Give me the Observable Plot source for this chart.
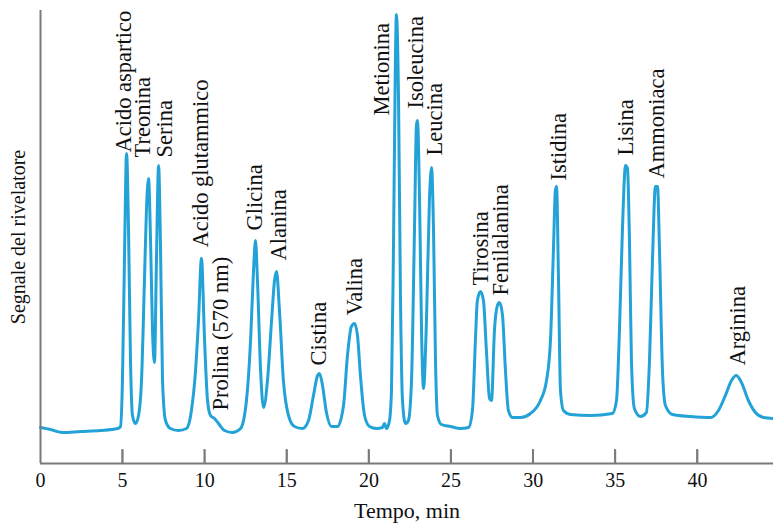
<!DOCTYPE html>
<html>
<head>
<meta charset="utf-8">
<script src="https://cdn.jsdelivr.net/npm/d3@7"></script>
<script src="https://cdn.jsdelivr.net/npm/@observablehq/plot@0.6"></script>
<style>
  html, body { margin: 0; padding: 0; background: #fff; }
  #chart svg { display: block; }
</style>
</head>
<body>
<div id="chart"></div>
<script>
// Chromatogram trace: retention time (min) and detector signal (arbitrary units)
const time = [0, 0.61, 1.34, 2.44, 3.65, 4.69, 4.87, 4.99, 5.12, 5.24, 5.36, 5.48, 5.60, 5.78, 5.97,
  6.15, 6.33, 6.45, 6.58, 6.70, 6.82, 6.94, 7.06, 7.19, 7.31, 7.43, 7.61, 7.91, 8.40, 8.89,
  9.19, 9.44, 9.62, 9.80, 9.99, 10.17, 10.35, 10.59, 10.84, 11.20, 11.69, 12.18, 12.54, 12.79,
  12.97, 13.09, 13.21, 13.40, 13.58, 13.82, 14.07, 14.25, 14.37, 14.55, 14.79, 15.10, 15.46,
  15.95, 16.32, 16.62, 16.87, 16.99, 17.17, 17.41, 17.72, 18.08, 18.45, 18.69, 18.93, 19.12,
  19.30, 19.48, 19.73, 20.03, 20.46, 20.82, 20.94, 21.07, 21.25, 21.37, 21.49, 21.61, 21.67,
  21.80, 21.92, 22.04, 22.22, 22.40, 22.59, 22.77, 22.89, 22.95, 23.08, 23.20, 23.32, 23.50,
  23.68, 23.81, 23.93, 24.05, 24.17, 24.41, 24.96, 25.57, 26.06, 26.30, 26.48, 26.60, 26.79,
  26.97, 27.15, 27.34, 27.46, 27.64, 27.82, 27.95, 28.13, 28.31, 28.49, 28.74, 29.23, 29.83,
  30.44, 30.81, 31.05, 31.23, 31.35, 31.42, 31.54, 31.66, 31.84, 32.27, 33.49, 34.82, 35.07,
  35.25, 35.43, 35.62, 35.74, 35.86, 35.98, 36.16, 36.53, 36.89, 37.08, 37.26, 37.44, 37.57,
  37.69, 37.87, 38.05, 38.48, 39.57, 40.79, 41.28, 41.70, 42.07, 42.37, 42.68, 43.10, 43.53,
  44.02, 44.63];
const signal = [36, 34, 31, 32, 33, 35, 37, 83, 213, 310, 233, 103, 48, 40, 48,
  83, 183, 253, 285, 223, 133, 101, 203, 298, 213, 83, 43, 35, 33, 35,
  53, 93, 143, 205, 123, 63, 48, 45, 40, 33, 31, 35, 63, 123,
  193, 223, 183, 93, 56, 83, 143, 183, 192, 153, 83, 48, 37,
  35, 43, 68, 88, 90, 78, 51, 37, 37, 58, 108, 137, 140,
  128, 88, 48, 37, 35, 36, 40, 35, 43, 73, 213, 403, 449,
  363, 163, 63, 40, 43, 83, 233, 338, 343, 263, 133, 75, 143,
  263, 296, 233, 103, 48, 39, 37, 35, 36, 53, 123, 163, 172,
  163, 113, 65, 63, 133, 158, 161, 148, 93, 53, 46, 46, 50,
  63, 83, 123, 213, 273, 277, 183, 73, 53, 49, 48, 50, 63,
  133, 233, 298, 295, 223, 103, 55, 47, 51, 103, 203, 277, 277,
  213, 93, 58, 49, 47, 46, 53, 68, 83, 88, 81, 63, 51,
  46, 45];

// Peak labels (amino acids) and where each label sits (time, signal at label base)
const peakNames = ["Acido aspartico", "Treonina", "Serina", "Acido glutammico", "Prolina (570 nm)",
  "Glicina", "Alanina", "Cistina", "Valina", "Metionina", "Isoleucina", "Leucina",
  "Tirosina", "Fenilalanina", "Istidina", "Lisina", "Ammoniaca", "Arginina"];
const labelTime = [5.1, 6.2, 7.55, 9.74, 10.96, 13.07, 14.5, 16.93, 19.12, 20.8, 22.85, 24.0,
  26.79, 28.0, 31.54, 35.62, 37.5, 42.44];
const labelSignal = [311, 306, 306, 216, 53, 233, 203, 98, 148, 348, 355, 308,
  178, 168, 283, 308, 285, 98];

const xTicks = [0, 5, 10, 15, 20, 25, 30, 35, 40];

const trace = time.map((t, i) => ({t, s: signal[i]}));
const labels = peakNames.map((name, i) => ({name, t: labelTime[i], s: labelSignal[i]}));
const innerTicks = xTicks.filter(d => d > 0);

const W = 773, H = 524;
const mTop = 10, mBottom = 61, mLeft = 40, mRight = 0;
const innerH = H - mTop - mBottom;
const yMax = 453;
const tickLenPx = 14;
const tickLen = tickLenPx * yMax / innerH; // inward tick length expressed in signal units
const font = "'Liberation Serif', 'Times New Roman', serif";
const axisColor = "#7a7a7a";
const lineColor = "#22a2d6";

// inward tick drawn as a symbol: a short vertical stroke going up from the axis
const tickSymbol = {draw(context) { context.moveTo(0, 0); context.lineTo(0, -tickLenPx); }};

const chart = Plot.plot({
  width: W,
  height: H,
  marginTop: mTop,
  marginBottom: mBottom,
  marginLeft: mLeft,
  marginRight: mRight,
  style: {fontFamily: font, fontSize: "20px", color: "#111", background: "#fff"},
  x: {domain: [0, 44.63]},
  y: {domain: [0, yMax]},
  marks: [
    Plot.axisX(xTicks, {tickSize: 0, tickPadding: 9, fontSize: 20, label: null}),
    Plot.axisX({ticks: [], tickSize: 0, label: "Tempo, min", labelAnchor: "center",
      labelOffset: 54, labelArrow: "none", fontSize: 22}),
    Plot.axisY({ticks: [], label: "Segnale del rivelatore", labelAnchor: "center",
      labelOffset: 30, labelArrow: "none", fontSize: 20}),
    Plot.line(trace, {x: "t", y: "s", stroke: lineColor, strokeWidth: 3, curve: "monotone-x"}),
    Plot.text(labels, {x: "t", y: "s", text: "name", rotate: -90, textAnchor: "start",
      lineAnchor: "middle", fontSize: 22.5, fill: "#111"}),
    Plot.ruleY([0], {stroke: axisColor, strokeWidth: 2}),
    Plot.ruleX([0], {stroke: axisColor, strokeWidth: 2}),
    Plot.rect(innerTicks, {x1: d => d, x2: d => d, y1: () => 0, y2: () => tickLen,
      insetLeft: -0.75, insetRight: -0.75, fill: axisColor}),
    Plot.dot(innerTicks, {x: d => d, y: () => 0, symbol: tickSymbol, r: 3,
      fill: "none", stroke: axisColor, strokeWidth: 1.5}),
    Plot.link(innerTicks, {x1: d => d, x2: d => d, y1: () => 0, y2: () => tickLen,
      stroke: axisColor, strokeWidth: 1.5})
  ]
});
document.getElementById("chart").appendChild(chart);
</script>
</body>
</html>
